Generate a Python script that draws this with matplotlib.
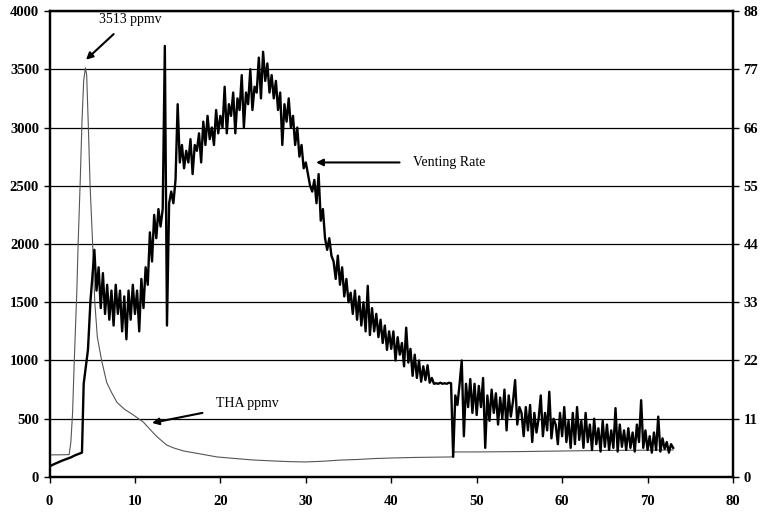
import numpy as np
import matplotlib.pyplot as plt

plt.rcParams['font.family'] = ['Liberation Serif', 'DejaVu Serif']

# THA concentration (ppmv, left axis)
tha_t = [0, 1, 2.3, 2.5, 2.7, 2.9, 3.2, 3.35, 3.6, 3.8, 4.0, 4.2, 4.35, 4.55, 4.75,
         5.05, 5.3, 5.6, 6.1, 6.7, 7.3, 7.9, 8.8, 9.8, 11, 12, 12.6, 13.7, 14.5,
         15.7, 17.5, 19.6, 21.5, 23.8, 26, 28, 30, 32, 34, 36, 38, 40, 43, 47.1,
         47.3, 50, 55, 60, 65, 70, 73]
tha_ppmv = [190, 190, 192, 300, 550, 1000, 1600, 2000, 2550, 3050, 3400, 3513, 3450,
            3000, 2500, 2000, 1500, 1200, 1000, 810, 720, 640, 580, 533, 470, 390,
            344, 275, 250, 223, 200, 172, 160, 146, 138, 132, 129, 135, 145, 150,
            158, 163, 168, 172, 215, 215, 218, 223, 228, 230, 232]

# venting rate (right axis)
vent_start_t = [0, 0.5, 1, 1.5, 2, 2.5, 3, 3.5, 3.8, 4.0, 4.5, 4.8, 5.0]
vent_start = [2.0, 2.4, 2.75, 3.1, 3.4, 3.7, 4.1, 4.4, 4.6, 17.6, 24.0, 33.4, 37.4]
vent_noisy = [
    42.9, 35.2, 39.6, 31.9, 38.5, 30.8, 36.3, 29.7, 35.2, 28.6, 36.3, 30.8,
    35.2, 27.5, 34.1, 26.0, 35.2, 29.7, 36.3, 30.8, 35.2, 27.5, 37.4, 31.9,
    39.6, 36.3, 46.2, 40.7, 49.5, 45.1, 50.6, 47.3, 50.6, 81.4, 28.6, 51.7,
    53.9, 51.7, 56.1, 70.4, 59.4, 62.7, 58.3, 61.6, 59.4, 63.8, 57.2, 62.7,
    61.6, 64.9, 59.4, 67.1, 62.7, 68.2, 63.8, 66.0, 62.7, 69.3, 64.9, 68.2,
    66.0, 73.7, 64.9, 70.4, 68.2, 72.6, 64.9, 71.5, 69.3, 75.9, 66.0, 72.6,
    70.4, 77.0, 69.3, 73.7, 72.6, 79.2, 71.5, 80.3, 74.8, 78.1, 72.6, 75.9,
    71.5, 74.8, 69.3, 72.6, 62.7, 70.4, 67.1, 71.5, 66.0, 68.2, 62.7, 66.0,
    60.5, 62.7, 58.3, 59.4, 57.2, 55.0, 53.9, 56.1, 51.7, 57.2, 48.4, 50.6,
    45.1, 42.9, 45.1, 41.8, 40.7, 37.4, 41.8, 36.3, 39.6, 34.1, 37.4, 33.0,
    34.8, 30.8, 35.2, 29.7, 34.1, 28.6, 33.0, 27.5, 36.1, 26.8, 31.9, 27.5,
    30.8, 26.4, 29.7, 25.3, 28.6, 24.0, 27.5, 24.2, 27.5, 22.0, 26.4, 23.1,
    25.3, 20.9, 28.2, 21.6, 24.2, 19.1, 23.1, 18.7, 22.0, 18.0, 20.9, 18.3,
    21.1, 17.8, 18.7, 17.6, 17.7, 17.6, 17.8, 17.6, 17.7, 17.6, 17.8, 17.7,
    3.8, 15.4, 13.6, 17.6, 22.0, 7.7, 17.6, 13.2, 18.5, 12.1, 17.6, 11.7,
    17.2, 13.2, 18.7, 5.5, 15.4, 10.6, 16.5, 12.1, 15.8, 9.9, 15.0, 11.0,
    16.5, 8.8, 15.4, 11.4, 14.3, 18.3, 9.9, 13.2, 12.1, 7.7, 13.2, 8.8,
    13.6, 6.6, 12.1, 8.4, 11.0, 15.4, 7.7, 12.1, 8.8, 16.1, 7.3, 11.0,
    9.9, 6.2, 12.1, 7.7, 13.2, 6.6, 10.6, 5.5, 12.1, 6.2, 13.2, 7.0,
    10.6, 5.5, 12.1, 6.6, 9.9, 5.1, 11.0, 6.2, 9.2, 4.8, 10.6, 5.7,
    9.9, 5.1, 8.8, 5.5, 13.0, 4.8, 9.9, 5.7, 8.8, 5.1, 9.2, 5.5,
    8.4, 4.8, 9.9, 6.6, 14.5, 5.5, 8.8, 5.1, 7.7, 4.6, 8.4, 5.1,
    11.4, 4.8, 7.3, 5.3, 6.6, 4.6, 6.2, 5.5,
]
vent_t = vent_start_t + list(np.arange(5.25, 5.25 + 0.25 * len(vent_noisy), 0.25))
vent_rate = vent_start + vent_noisy

fig = plt.figure(figsize=(7.64, 5.12), dpi=100)
ax = fig.add_axes([0.0648, 0.0684, 0.8946, 0.9101])
ax2 = ax.twinx()

ax.plot(tha_t, tha_ppmv, color='#555555', lw=0.8)
ax2.plot(vent_t, vent_rate, color='black', lw=1.7)

ax.set_xlim(0, 80)
ax.set_ylim(0, 4000)
ax2.set_ylim(0, 88)
ax.set_xticks(range(0, 81, 10))
ax.set_yticks(range(0, 4001, 500))
ax2.set_yticks(range(0, 89, 11))
ax.yaxis.grid(True, color='black', lw=0.9)
ax.set_axisbelow(True)

for a in (ax, ax2):
    for s in a.spines.values():
        s.set_linewidth(1.6)
    a.tick_params(direction='out', length=4, width=1, labelsize=10.5)
    for lab in a.get_xticklabels() + a.get_yticklabels():
        lab.set_fontweight('bold')
ax.tick_params(axis='x', pad=9)

ax.annotate('3513 ppmv', xy=(4.27, 3582), xytext=(9.4, 3930), fontsize=10,
            ha='center', va='center',
            arrowprops=dict(arrowstyle='-|>', color='black', lw=1.5, shrinkA=6, shrinkB=0))
ax.annotate('Venting Rate', xy=(31.2, 2700), xytext=(42.6, 2700), fontsize=10,
            ha='left', va='center',
            arrowprops=dict(arrowstyle='-|>', color='black', lw=1.5, shrinkA=8, shrinkB=0))
ax.annotate('THA ppmv', xy=(12.0, 464), xytext=(19.5, 627), fontsize=10,
            ha='left', va='center',
            arrowprops=dict(arrowstyle='-|>', color='black', lw=1.5, shrinkA=8, shrinkB=0))

fig.savefig('out.png', dpi=100)
